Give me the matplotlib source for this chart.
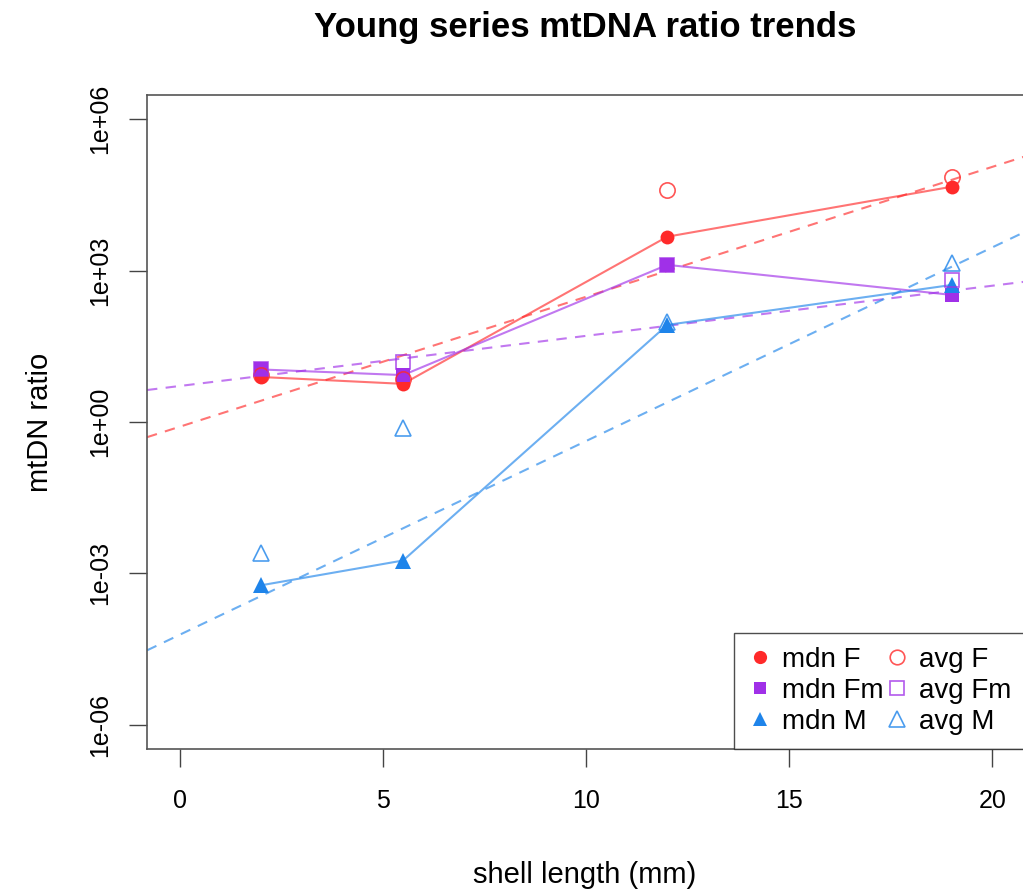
import matplotlib
matplotlib.use("Agg")
from matplotlib import pyplot
from matplotlib.lines import Line2D

pyplot.rcParams["font.family"] = ["Liberation Sans", "DejaVu Sans"]

# shell length (mm) of each group
shell_len = [2, 5.5, 12, 19]

# median and mean mtDNA ratios
mdn_F = [7.8, 5.7, 4700, 46000]
avg_F = [8.5, 7.0, 40000, 73000]
mdn_Fm = [11, 8.5, 1300, 330]
avg_Fm = [11, 15.5, 1300, 660]
mdn_M = [5.8e-4, 1.8e-3, 84, 520]
avg_M = [2.5e-3, 0.76, 96, 1420]

# log10 regression lines (intercept, slope)
fit_F = (-0.095, 0.2576)
fit_Fm = (0.713, 0.0994)
fit_M = (-4.218, 0.384)

y_ticks = [1e-6, 1e-3, 1, 1e3, 1e6]
y_labels = ["1e-06", "1e-03", "1e+00", "1e+03", "1e+06"]
x_ticks = [0, 5, 10, 15, 20]

col_F = "#FF2A2A"
col_Fm = "#A030E8"
col_M = "#1E84EA"

fig = pyplot.figure(figsize=(10.23, 8.91), dpi=100)
ax = fig.add_axes([147 / 1023, 142 / 891, 878 / 1023, 654 / 891])
ax.set_yscale("log")
ax.set_xlim(-0.8, 20.8)
ax.set_ylim(10 ** -6.48, 10 ** 6.48)

series = [
    (mdn_F, avg_F, fit_F, col_F, "o", "mdn F", "avg F"),
    (mdn_Fm, avg_Fm, fit_Fm, col_Fm, "s", "mdn Fm", "avg Fm"),
    (mdn_M, avg_M, fit_M, col_M, "^", "mdn M", "avg M"),
]
sizes = {"o": 10, "s": 9.5, "^": 11}

mdn_handles = []
avg_handles = []
for mdn, avg, fit, col, mk, lab_m, lab_a in series:
    a, b = fit
    ax.axline((0, 10 ** a), (1, 10 ** (a + b)), color=col, alpha=0.65,
              lw=1.5, linestyle=(0, (5, 4)), zorder=2)
    ax.plot(shell_len, mdn, "-", color=col, alpha=0.65, lw=1.5, zorder=3)
    ax.plot(shell_len, mdn, mk, color=col, markersize=sizes[mk],
            markeredgewidth=0, zorder=4)
    ax.plot(shell_len, avg, mk, markerfacecolor="none", markeredgecolor=col,
            markersize=sizes[mk] + 1, markeredgewidth=1.2, alpha=0.8, zorder=5)
    mdn_handles.append(Line2D([], [], linestyle="none", marker=mk, color=col,
                              markersize=sizes[mk] - 0.5, markeredgewidth=0, label=lab_m))
    avg_handles.append(Line2D([], [], linestyle="none", marker=mk, markerfacecolor="none",
                              markeredgecolor=col, markersize=sizes[mk] + 0.5,
                              markeredgewidth=1.2, alpha=0.8, label=lab_a))

leg = ax.legend(handles=mdn_handles + avg_handles, ncol=2, loc="lower right",
                fontsize=20, frameon=True, fancybox=False, borderaxespad=0,
                handlelength=0.9, handletextpad=0.35, columnspacing=0.0,
                labelspacing=0.18, borderpad=0.5)
leg.get_frame().set_edgecolor("#222222")
leg.get_frame().set_linewidth(1.0)
leg.set_zorder(10)

ax.set_yticks(y_ticks)
ax.set_yticklabels(y_labels, rotation=90, va="center")
ax.minorticks_off()
ax.set_xticks(x_ticks)
ax.tick_params(axis="both", labelsize=18, length=13, width=1.0, color="#444444")
ax.tick_params(axis="x", pad=16)
ax.tick_params(axis="y", pad=12)
for s in ax.spines.values():
    s.set_color("#555555")
    s.set_linewidth(1.2)

ax.set_xlabel("shell length (mm)", fontsize=21)
ax.set_ylabel("mtDN ratio", fontsize=21)
ax.xaxis.set_label_coords((585 - 147) / 878, -(875 - 749) / 654)
ax.xaxis.label.set_va("center")
ax.yaxis.set_label_coords((40 - 147) / 878, 0.5)
ax.yaxis.label.set_va("center")

fig.text(585 / 1023, 1 - 28 / 891, "Young series mtDNA ratio trends",
         fontsize=25, fontweight="bold", ha="center", va="center")

fig.savefig("out.png", dpi=100)
